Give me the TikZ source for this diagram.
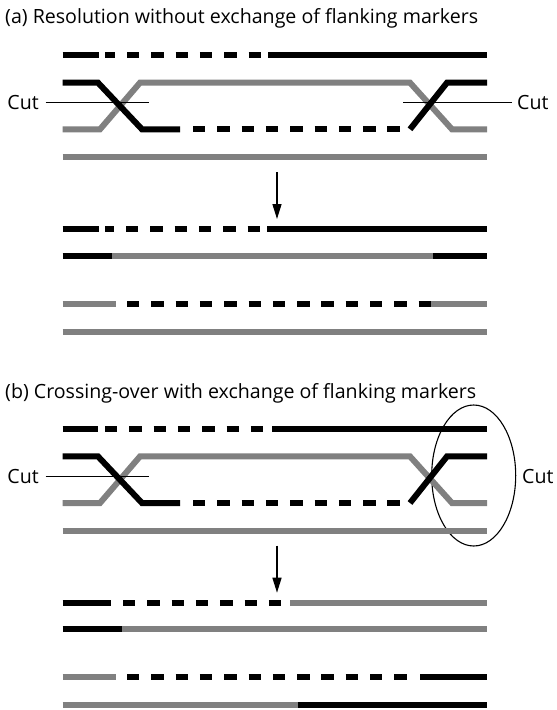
\documentclass[tikz,border=0pt]{standalone}
\usepackage{fontspec}
\setmainfont{Open Sans}
\usetikzlibrary{arrows.meta}
\definecolor{strandgray}{RGB}{128,128,128}
\tikzset{
  blk/.style={line width=6pt, draw=black},
  gry/.style={line width=6pt, draw=strandgray},
  dsh/.style={blk, dash pattern=on 12.4pt off 11.9pt},
  cutln/.style={line width=0.9pt, draw=black},
  lbl/.style={inner sep=0pt, font=\fontsize{19.6}{23}\selectfont},
  dnarrow/.style={line width=1.4pt, -{Triangle[length=15pt,width=9pt]}},
  loop/.style={line width=1.1pt, draw=black},
}
% the two crossed strands and the partner duplex of one panel
\newcommand{\hjstrands}{%
  \draw[gry] (62.7,129.3) -- (100,129.3) -- (140,82.7) -- (410,82.7) -- (452,129.3) -- (487,129.3);
  \draw[gry] (62.7,157.3) -- (487,157.3);
  \draw[blk] (62.7,82.7) -- (98,82.7) -- (142,129.3) -- (180,129.3);
  \draw[dsh] (193,129.3) -- (400,129.3);
  \draw[blk] (410,129.3) -- (447,82.7) -- (487,82.7);
}
\begin{document}
\begin{tikzpicture}[x=1pt,y=-1pt,line cap=butt,line join=miter]
\useasboundingbox (0,0) rectangle (557,710);

% ---------------- (a) ----------------
\node[lbl,anchor=west] (titleA) at (5,18.5) {(a) Resolution without exchange of flanking markers};
\draw[blk] (62.7,55) -- (99.3,55);
\draw[blk] (105,55) -- (115,55);
\draw[dsh] (127,55) -- (262,55);
\draw[blk] (268,55) -- (487,55);
\hjstrands
\node[lbl,anchor=east] (cutAL) at (39,102.5) {Cut};
\node[lbl,anchor=west] (cutAR) at (517,102.5) {Cut};
\draw[cutln] ([xshift=6.5pt]cutAL.east) -- ++(103,0);
\draw[cutln] ([xshift=-5pt]cutAR.west) -- ++(-109,0);

\coordinate (arrAs) at (277,172);
\coordinate (arrAe) at (277,219);
\draw[dnarrow] (arrAs) -- (arrAe);

% products of (a)
\draw[blk] (62.7,229) -- (99.3,229);
\draw[blk] (105,229) -- (114,229);
\draw[dsh] (126,229) -- (259.5,229);
\draw[blk] (267,229) -- (487,229);

\draw[blk] (62.7,255.7) -- (112,255.7);
\draw[gry] (112,255.7) -- (433,255.7);
\draw[blk] (433,255.7) -- (487,255.7);

\draw[gry] (62.7,304.3) -- (116,304.3);
\draw[dsh] (127,304.3) -- (431,304.3);
\draw[gry] (431,304.3) -- (487,304.3);

\draw[gry] (62.7,331.7) -- (487,331.7);

% ---------------- (b) ----------------
\node[lbl,anchor=west] (titleB) at (5,393) {(b) Crossing-over with exchange of flanking markers};
\draw[loop] (473.7,475.5) ellipse [x radius=42, y radius=70.5];
\draw[blk] (62.7,428.7) -- (98,428.7);
\draw[dsh] (105,428.7) -- (265,428.7);
\draw[blk] (272,428.7) -- (487,428.7);
\begin{scope}[yshift=-373.7pt]
  \hjstrands
\end{scope}
\node[lbl,anchor=east] (cutBL) at (39,476.5) {Cut};
\node[lbl,anchor=west] (cutBR) at (522,476.7) {Cut};
\draw[cutln] ([xshift=6.5pt]cutBL.east) -- ++(103,0);

\coordinate (arrBs) at (277,545.7);
\coordinate (arrBe) at (277,592.7);
\draw[dnarrow] (arrBs) -- (arrBe);

% products of (b)
\draw[blk] (62.7,602.5) -- (110.7,602.5);
\draw[dsh] (123,602.5) -- (283,602.5);
\draw[gry] (290,602.5) -- (487,602.5);

\draw[blk] (62.7,629.2) -- (122,629.2);
\draw[gry] (122,629.2) -- (487,629.2);

\draw[gry] (62.7,677) -- (116,677);
\draw[dsh] (127,677) -- (408,677);
\draw[blk] (420,677) -- (487,677);

\draw[gry] (62.7,705) -- (298,705);
\draw[blk] (298,705) -- (487,705);
\end{tikzpicture}
\end{document}
